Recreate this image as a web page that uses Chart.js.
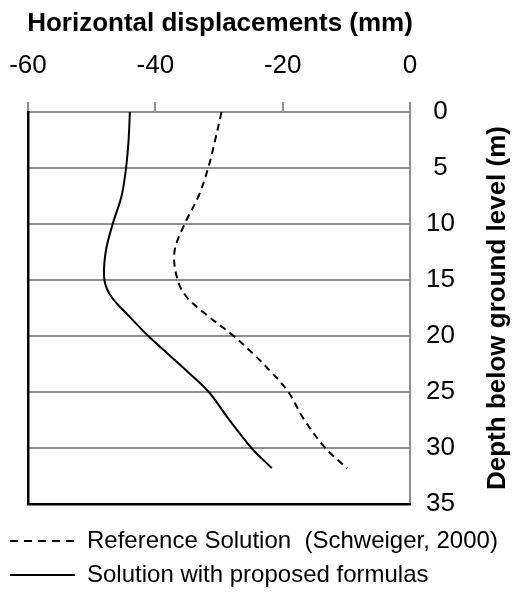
<!DOCTYPE html>
<html>
<head>
<meta charset="utf-8">
<script src="https://cdn.jsdelivr.net/npm/chart.js@4/dist/chart.umd.min.js"></script>
<style>
  html, body { margin: 0; padding: 0; background: #ffffff; }
  #wrap { width: 512px; height: 597px; position: relative; }
</style>
</head>
<body>
<div id="wrap"><canvas id="c"></canvas></div>
<script>
// ---- Data ----
const depths = [0, 2.5, 5, 7.5, 10, 12.5, 15, 16.5, 18, 20, 21.6, 23.1, 25, 27.4, 30, 31.8];
const referenceSolution = [-29.6, -30.6, -31.7, -33.2, -35.4, -37.0, -36.5, -35.1, -32.2, -27.7, -24.6, -22.0, -19.1, -16.7, -13.3, -9.9];
const proposedSolution = [-44.0, -44.2, -44.6, -45.3, -46.7, -47.8, -48.0, -46.9, -44.5, -41.1, -38.0, -35.1, -31.6, -28.5, -24.9, -21.7];
const seriesLabels = ['Reference Solution  (Schweiger, 2000)', 'Solution with proposed formulas'];
const xTitle = 'Horizontal displacements (mm)';
const yTitle = 'Depth below ground level (m)';
const xRange = [-60, 0];
const yRange = [0, 35];

const toPoints = (xs, ys) => xs.map((v, i) => ({ x: v, y: ys[i] }));

Chart.defaults.font.family = "'Liberation Sans', Arial, sans-serif";
Chart.defaults.color = '#000000';

const GRID = '#8f8f8f';
const TITLE_FONT = "bold 26px 'Liberation Sans', Arial, sans-serif";

const axisTitlesPlugin = {
  id: 'axisTitlesPlugin',
  afterDraw(chart) {
    const ctx = chart.ctx;
    const area = chart.chartArea;
    ctx.save();
    ctx.font = TITLE_FONT;
    ctx.fillStyle = '#000000';
    ctx.textAlign = 'center';
    ctx.textBaseline = 'middle';
    // horizontal axis title (top)
    ctx.fillText(xTitle, (area.left + area.right) / 2 + 1, 24);
    // vertical axis title (right, reading bottom-to-top)
    ctx.translate(498, (area.top + area.bottom) / 2);
    ctx.rotate(-Math.PI / 2);
    ctx.fillText(yTitle, 0, 0);
    ctx.restore();
  }
};

const defaultLabels = Chart.defaults.plugins.legend.labels.generateLabels;

new Chart(document.getElementById('c'), {
  type: 'scatter',
  data: {
    datasets: [
      {
        label: seriesLabels[0],
        data: toPoints(referenceSolution, depths),
        showLine: true,
        borderColor: '#000000',
        backgroundColor: '#000000',
        borderWidth: 2,
        borderDash: [7, 5],
        pointRadius: 0,
        tension: 0.35
      },
      {
        label: seriesLabels[1],
        data: toPoints(proposedSolution, depths),
        showLine: true,
        borderColor: '#000000',
        backgroundColor: '#000000',
        borderWidth: 2,
        pointRadius: 0,
        tension: 0.35
      }
    ]
  },
  options: {
    responsive: true,
    maintainAspectRatio: false,
    animation: false,
    layout: { padding: 0 },
    plugins: {
      tooltip: { enabled: false },
      legend: {
        position: 'bottom',
        align: 'start',
        labels: {
          usePointStyle: true,
          pointStyle: 'line',
          pointStyleWidth: 65,
          padding: 10,
          color: '#000000',
          font: { size: 24 },
          generateLabels: (chart) => defaultLabels(chart).map((it) => {
            const ds = chart.data.datasets[it.datasetIndex];
            return Object.assign({}, it, { lineDash: ds.borderDash ? [8, 6] : [], lineWidth: 2, strokeStyle: '#000000' });
          })
        }
      }
    },
    scales: {
      x: {
        type: 'linear',
        position: 'top',
        min: xRange[0],
        max: xRange[1],
        ticks: { stepSize: 20, padding: 21, font: { size: 26 }, color: '#000000' },
        grid: { drawOnChartArea: false, drawTicks: true, tickLength: 10, color: GRID, lineWidth: 2 },
        border: { display: true, color: GRID, width: 2 },
        title: { display: false },
        afterFit: (s) => { s.height = 112; s.paddingLeft = 0; s.paddingRight = 0; }
      },
      y: {
        type: 'linear',
        position: 'right',
        reverse: true,
        min: yRange[0],
        max: yRange[1],
        ticks: { stepSize: 5, padding: 16, crossAlign: 'center', font: { size: 26 }, color: '#000000' },
        grid: { drawTicks: false, color: GRID, lineWidth: 2 },
        border: { display: true, color: GRID, width: 2 },
        afterFit: (s) => { s.width = 102; s.paddingTop = 0; s.paddingBottom = 0; }
      },
      yl: {
        type: 'linear',
        position: 'left',
        display: true,
        ticks: { display: false },
        grid: { display: false, drawTicks: false },
        border: { display: true, color: '#000000', width: 2.5, z: 2 },
        afterFit: (s) => { s.width = 28; s.paddingTop = 0; s.paddingBottom = 0; }
      },
      xb: {
        type: 'linear',
        position: 'bottom',
        display: true,
        ticks: { display: false },
        grid: { display: false, drawTicks: false },
        border: { display: true, color: '#000000', width: 2.5, z: 2 },
        afterFit: (s) => { s.height = 15; s.paddingLeft = 0; s.paddingRight = 0; }
      }
    }
  },
  plugins: [axisTitlesPlugin]
});
</script>
</body>
</html>
